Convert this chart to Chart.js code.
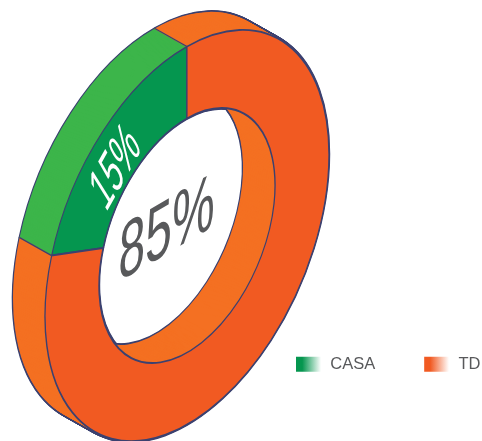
<!DOCTYPE html>
<html>
<head>
<meta charset="utf-8">
<script src="https://cdn.jsdelivr.net/npm/chart.js@4/dist/chart.umd.js"></script>
<style>
  html, body { margin: 0; padding: 0; background: #fff; }
  canvas { display: block; }
</style>
</head>
<body>
<canvas id="ring" width="482" height="441"></canvas>
<script>
const categories = ['CASA', 'TD'];
// slice sizes as drawn in the picture, the printed labels say 15 / 85
const drawnShares = [20.1, 79.9];
const printedLabels = ['15%', '85%'];

const faceColors = ['#05964f', '#f15a22'];
const sideColors = ['#3cb54a', '#f47022'];
const outlineColor = '#3b4170';
const textGray = '#58595b';

// projection of the flat doughnut onto the tilted ring
const ringCenter = { x: 187, y: 235.5 };
const ringMatrix = { xx: 142, xy: -81, yy: 189 };
const depth = { x: -32, y: -18 };
const depthSteps = 48;

const legendLeft = 247;
const legendPadding = 49;
const legendPitch = 128;

function applyRing(ctx, arc, t) {
    const R = arc.outerRadius;
    ctx.setTransform(
        ringMatrix.xx / R, ringMatrix.xy / R, 0, ringMatrix.yy / R,
        ringCenter.x + depth.x * t - arc.x * ringMatrix.xx / R,
        ringCenter.y + depth.y * t - arc.x * ringMatrix.xy / R - arc.y * ringMatrix.yy / R
    );
}

function drawVariant(ctx, arc, overrides) {
    const original = arc.options;
    arc.options = { ...original, ...overrides };
    arc.draw(ctx);
    arc.options = original;
}

const ringBody = {
    id: 'ringBody',
    beforeDatasetDraw(chart, args) {
        const ctx = chart.ctx;
        const arcs = args.meta.data;
        ctx.save();
        // outline first, so only the silhouette survives the fills
        for (let s = depthSteps; s >= 0; s--) {
            applyRing(ctx, arcs[0], s / depthSteps);
            arcs.forEach(arc => drawVariant(ctx, arc, { borderWidth: 3.2, borderColor: outlineColor }));
        }
        for (let s = depthSteps; s > 0; s--) {
            applyRing(ctx, arcs[0], s / depthSteps);
            arcs.forEach((arc, i) => drawVariant(ctx, arc, { borderWidth: 0, backgroundColor: sideColors[i] }));
        }
        // edges between the two side walls
        ctx.setTransform(1, 0, 0, 1, 0, 0);
        ctx.strokeStyle = outlineColor;
        ctx.lineWidth = 1.3;
        arcs.forEach(arc => {
            const ux = Math.cos(arc.startAngle);
            const uy = Math.sin(arc.startAngle);
            const px = ringCenter.x + ringMatrix.xx * ux;
            const py = ringCenter.y + ringMatrix.xy * ux + ringMatrix.yy * uy;
            ctx.beginPath();
            ctx.moveTo(px, py);
            ctx.lineTo(px + depth.x, py + depth.y);
            ctx.stroke();
        });
        applyRing(ctx, arcs[0], 0);
    },
    afterDatasetDraw(chart) {
        chart.ctx.restore();
    },
    afterDatasetsDraw(chart) {
        const ctx = chart.ctx;
        const frames = [
            { o: [106, 213], e: [18, -32], d: [28, 45], color: '#fff' },
            { o: [118, 282], e: [48, -28], d: [-2, 80], color: textGray }
        ];
        frames.forEach((f, i) => {
            ctx.save();
            ctx.setTransform(f.e[0] / 100, f.e[1] / 100, f.d[0] / 100, f.d[1] / 100, f.o[0], f.o[1]);
            ctx.font = '100px "Liberation Sans", Arial, sans-serif';
            ctx.textBaseline = 'alphabetic';
            ctx.textAlign = 'left';
            ctx.fillStyle = f.color;
            ctx.fillText(printedLabels[i], 0, 0);
            ctx.restore();
        });
    },
    afterLayout(chart) {
        const legend = chart.legend;
        legend.left = legendLeft;
        legend.right = 482 + 70;
        legend.top = 307;
        legend.bottom = 420;
    }
};

new Chart(document.getElementById('ring'), {
    type: 'doughnut',
    data: {
        labels: categories,
        datasets: [{
            data: drawnShares,
            backgroundColor: faceColors,
            borderColor: outlineColor,
            borderWidth: 1.7,
            clip: false
        }]
    },
    options: {
        responsive: false,
        animation: false,
        cutout: '62%',
        rotation: -72.4,
        plugins: {
            tooltip: { enabled: false },
            legend: {
                position: 'bottom',
                align: 'start',
                labels: {
                    boxWidth: 26,
                    boxHeight: 15,
                    padding: legendPadding,
                    color: textGray,
                    font: { family: '"Liberation Sans", Arial, sans-serif', size: 16.5 },
                    generateLabels: chart => categories.map((text, i) => {
                        const x0 = legendLeft + legendPadding + i * legendPitch;
                        const fade = chart.ctx.createLinearGradient(x0, 0, x0 + 25, 0);
                        fade.addColorStop(0, faceColors[i]);
                        fade.addColorStop(0.25, faceColors[i]);
                        fade.addColorStop(1, '#ffffff');
                        return { text, fillStyle: fade, fontColor: textGray, strokeStyle: 'transparent', lineWidth: 0, index: i };
                    })
                }
            }
        }
    },
    plugins: [ringBody]
});
</script>
</body>
</html>
